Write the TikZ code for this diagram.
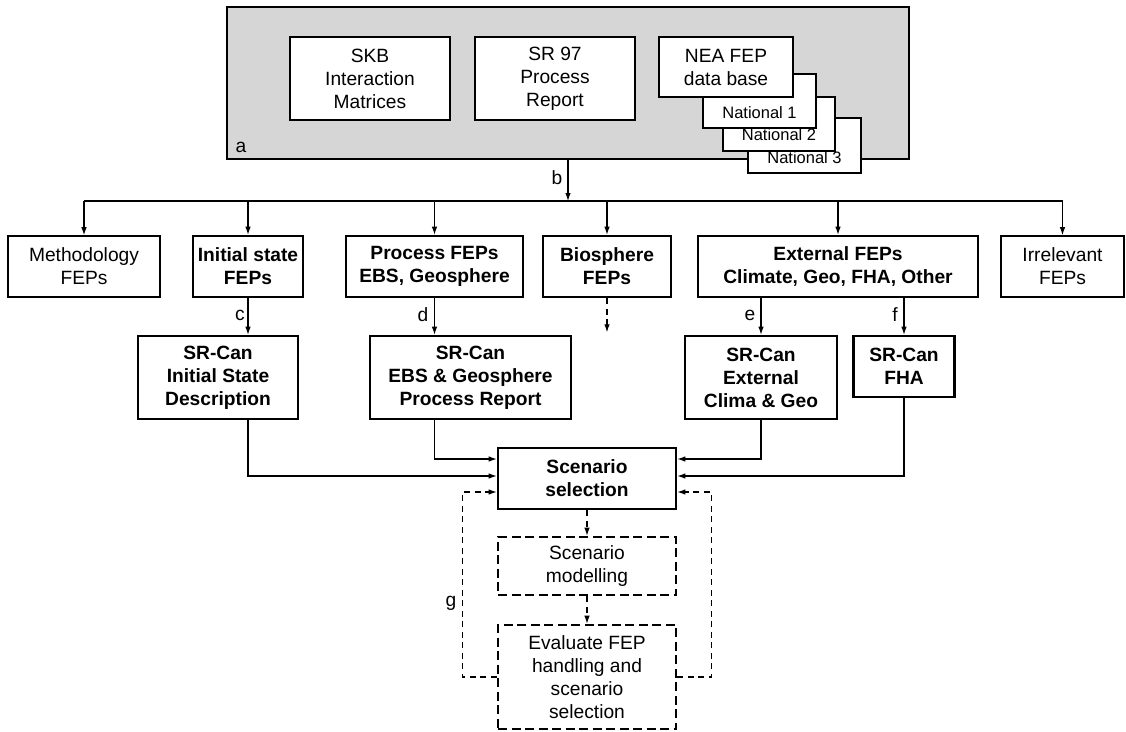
\documentclass[tikz,border=0pt]{standalone}
\usepackage{fontspec}
\setmainfont{Liberation Sans}
\usetikzlibrary{arrows.meta}
\newcommand{\mainfs}{\fontsize{19.2}{23}\selectfont}
\newcommand{\natfs}{\fontsize{16.5}{20}\selectfont}
\definecolor{panelgray}{HTML}{D6D6D6}
\tikzset{
  boxbase/.style={draw, fill=white, inner sep=0pt, align=center, font=\mainfs},
  thinbox/.style={boxbase, line width=1.6pt},
  topbox/.style={boxbase, line width=2pt},
  boldbox/.style={boxbase, line width=2.6pt, font=\mainfs\bfseries},
  dashbox/.style={boxbase, line width=2.6pt, dash pattern=on 9pt off 4.5pt},
  natbox/.style={draw, fill=white, line width=2pt, inner sep=0pt},
  nattext/.style={font=\natfs, inner sep=0pt},
  panel/.style={draw, fill=panelgray, line width=2pt, inner sep=0pt},
  conn/.style={line width=1.1pt, -{Latex[length=8pt,width=5.5pt]}},
  plain/.style={line width=1.1pt},
  dconn/.style={line width=1.1pt, dash pattern=on 6pt off 4.5pt, -{Latex[length=8pt,width=5.5pt]}},
  lab/.style={font=\mainfs, inner sep=0pt}
}
\begin{document}
\begin{tikzpicture}[x=1pt,y=-1pt]
\useasboundingbox (0,0) rectangle (1126,731);
% top panel
\node[panel, minimum width=682pt, minimum height=152pt] (gray) at (568,83) {};
\node[lab] (la) at (241,147) {a};
\node[topbox, minimum width=160pt, minimum height=83pt] (skb) at (370,78.5) {SKB\\Interaction\\Matrices};
\node[topbox, minimum width=160pt, minimum height=83pt] (sr97) at (555,78.5) {SR 97\\Process\\Report};
\node[natbox, minimum width=113pt, minimum height=55pt] (nat3) at (804.5,145.5) {};
\node[nattext] (t3) at ([yshift=-12pt]nat3.center) {National 3};
\node[natbox, minimum width=112pt, minimum height=54pt] (nat2) at (779,124) {};
\node[nattext] (t2) at ([yshift=-11pt]nat2.center) {National 2};
\node[natbox, minimum width=113pt, minimum height=54pt] (nat1) at (759.5,101) {};
\node[nattext] (t1) at ([yshift=-12pt]nat1.center) {National 1};
\node[topbox, minimum width=134pt, minimum height=60pt] (nea) at (726,67) {NEA FEP\\data base};
% bus
\coordinate (bus) at (568,201);
\draw[conn] (gray.south) -- (bus);
\node[lab] (lb) at (557,178) {b};
% level 2
\node[thinbox, minimum width=152pt, minimum height=61pt] (meth) at (84,266.5) {Methodology\\FEPs};
\node[boldbox, minimum width=110pt, minimum height=61pt] (init) at (248,266.5) {Initial state\\FEPs};
\node[boldbox, minimum width=177pt, minimum height=61pt] (proc) at (434.5,266.5) {Process FEPs\\EBS, Geosphere};
\node[boldbox, minimum width=128pt, minimum height=61pt] (bio) at (607,266.5) {Biosphere\\FEPs};
\node[boldbox, minimum width=280pt, minimum height=61pt] (ext) at (838,266.5) {External FEPs\\Climate, Geo, FHA, Other};
\node[thinbox, minimum width=123pt, minimum height=61pt] (irr) at (1062.5,266.5) {Irrelevant\\FEPs};
\draw[plain] (meth.north |- bus) -- (irr.north |- bus);
\foreach \n in {meth,init,proc,bio,ext,irr}{\draw[conn] (\n.north |- bus) -- (\n.north);}
% level 3
\node[boldbox, minimum width=160pt, minimum height=83pt] (sri) at (218,377.5) {SR-Can\\Initial State\\Description};
\node[boldbox, minimum width=201pt, minimum height=83pt] (sre) at (470.5,377.5) {SR-Can\\EBS \& Geosphere\\Process Report};
\node[boldbox, minimum width=152pt, minimum height=83pt] (srx) at (761,377.5) {SR-Can\\External\\Clima \& Geo};
\node[boldbox, minimum width=101pt, minimum height=61pt] (srf) at (904,366.5) {SR-Can\\FHA};
\draw[conn] (init.south) -- (init.south |- sri.north);
\draw[conn] (proc.south) -- (proc.south |- sre.north);
\draw[conn] (srx.north |- ext.south) -- (srx.north);
\draw[conn] (srf.north |- ext.south) -- (srf.north);
\draw[dconn] (bio.south) -- ++(0,34);
\node[lab] (lc) at (240,315) {c};
\node[lab] (ld) at (423,315) {d};
\node[lab] (le) at (750,315) {e};
\node[lab] (lf) at (895,315) {f};
% scenario selection
\node[boldbox, minimum width=178pt, minimum height=61pt] (sel) at (587,478.5) {Scenario\\selection};
\node[dashbox, minimum width=178pt, minimum height=58pt] (mod) at (587,566) {Scenario\\modelling};
\node[dashbox, minimum width=178pt, minimum height=104pt] (eval) at (587,677) {Evaluate FEP\\handling and\\scenario\\selection};
\draw[conn] (proc.south |- sre.south) |- ([yshift=19.5pt]sel.west);
\draw[conn] (init.south |- sri.south) |- ([yshift=2.5pt]sel.west);
\draw[conn] (srx.south) |- ([yshift=19.5pt]sel.east);
\draw[conn] (srf.south) |- ([yshift=2.5pt]sel.east);
\draw[dconn] (sel.south) -- (mod.north);
\draw[dconn] (mod.south) -- (eval.north);
\draw[dconn] (eval.west) -- ++(-34,0) |- ([yshift=-13.5pt]sel.west);
\draw[dconn] (eval.east) -- ++(34,0) |- ([yshift=-13.5pt]sel.east);
\node[lab] (lg) at (451,603) {g};
\end{tikzpicture}
\end{document}
